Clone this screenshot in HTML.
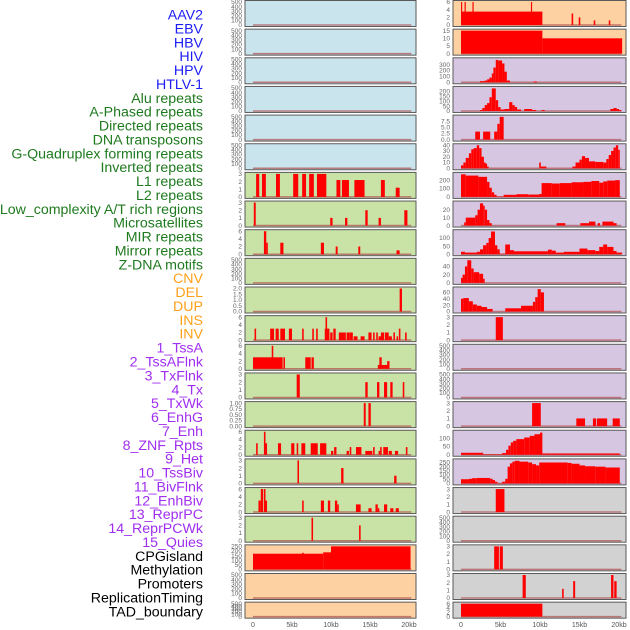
<!DOCTYPE html>
<html><head><meta charset="utf-8">
<style>
html,body{margin:0;padding:0;background:#fff;}
svg{display:block;font-family:"Liberation Sans",sans-serif;}
</style></head>
<body>
<svg id="chart" width="630" height="630" viewBox="0 0 630 630" xmlns="http://www.w3.org/2000/svg"></svg>
<script>
// ---------- data ----------
const labelNames = ["AAV2","EBV","HBV","HIV","HPV","HTLV-1","Alu repeats","A-Phased repeats","Directed repeats","DNA transposons","G-Quadruplex forming repeats","Inverted repeats","L1 repeats","L2 repeats","Low_complexity A/T rich regions","Microsatellites","MIR repeats","Mirror repeats","Z-DNA motifs","CNV","DEL","DUP","INS","INV","1_TssA","2_TssAFlnk","3_TxFlnk","4_Tx","5_TxWk","6_EnhG","7_Enh","8_ZNF_Rpts","9_Het","10_TssBiv","11_BivFlnk","12_EnhBiv","13_ReprPC","14_ReprPCWk","15_Quies","CPGisland","Methylation","Promoters","ReplicationTiming","TAD_boundary"];
const labelGroups = ["virus","virus","virus","virus","virus","virus","repeat","repeat","repeat","repeat","repeat","repeat","repeat","repeat","repeat","repeat","repeat","repeat","repeat","sv","sv","sv","sv","sv","chrom","chrom","chrom","chrom","chrom","chrom","chrom","chrom","chrom","chrom","chrom","chrom","chrom","chrom","chrom","other","other","other","other","other"];
const xTicks = [0,5,10,15,20];
const xTickLabels = ["0","5kb","10kb","15kb","20kb"];

const ticksEmpty = [0,100,200,300,400,500];
const ticks3 = [0,1,2,3];
const ticks6 = [0,2,4,6];

// segments: [startKb, endKb, value]
const segAlu = [[0.4,0.8,3],[1.15,1.65,3],[2.95,3.45,3],[5.15,5.8,3],[6.3,6.8,3],[7.2,7.8,3],[8.2,9.4,3],[10.7,11.2,2.2],[11.4,12.3,2.2],[13.0,14.3,2.2],[16.4,16.9,2.2],[18.3,18.8,1.2]];
const segAPhased = [[0.1,0.35,3],[9.9,10.2,1],[11.8,12.1,1],[14.4,14.7,2],[16.1,16.4,1],[19.4,19.8,2]];
const segDirected = [[1.4,1.7,6],[1.7,1.9,3],[3.5,3.9,3],[8.7,9.1,3],[10.6,10.85,2],[13.5,13.75,2],[18.4,18.8,1]];
const segGQuad = [[18.8,19.1,2]];
const segInverted = [[0.2,0.4,3],[2.2,2.7,3],[2.9,3.3,3],[3.5,4.1,3],[4.6,5.0,3],[6.3,6.5,3],[7.6,7.8,3],[8.1,8.3,3],[9.2,9.8,3],[9.3,9.5,6],[9.9,10.2,2],[10.3,10.6,3],[11.0,11.9,2],[12.0,12.4,2],[12.4,12.8,2],[12.9,13.4,1],[13.8,14.3,1],[14.8,15.2,2],[15.4,15.6,2],[15.8,16.0,2],[16.1,16.8,1],[16.4,16.8,2],[16.9,17.4,2],[17.4,17.8,1],[18.0,18.2,2],[18.4,18.6,1],[18.7,18.9,3],[19.5,19.7,2]];
const segL1 = [[0,3.8,3],[2.4,2.6,6],[3.9,4.1,3],[6.7,7.4,3],[7.5,7.8,3],[16.0,17.3,1],[16.2,16.5,3],[17.2,17.5,2]];
const segL2 = [[5.6,6.0,3],[14.4,14.7,2],[15.9,16.2,2],[16.8,17.2,2],[17.6,17.9,2],[19.2,19.4,2]];
const segLowComplex = [[14.2,14.45,1],[14.8,15.1,1]];
const segMicrosat = [[0.4,0.6,3],[1.4,1.6,6],[1.6,1.8,3],[3.2,3.6,3],[4.9,5.3,3],[5.6,5.8,3],[6.2,6.7,3],[7.4,8.3,3],[8.6,9.4,3],[10.0,10.3,1],[10.4,10.7,2],[12.0,12.3,1],[12.4,12.6,2],[13.2,13.9,2],[14.4,15.3,1],[15.4,15.6,2],[16.1,16.3,1],[16.3,16.5,2],[16.7,17.3,2],[17.4,17.8,1],[18.2,18.6,1],[19.6,19.8,2]];
const segMIR = [[5.7,5.9,3],[11.3,11.6,2],[18.1,18.4,1]];
const segMirror = [[0.7,1.0,3],[1.0,1.3,6],[1.4,1.6,6],[1.6,1.8,3],[6.3,6.5,3],[8.7,9.1,3],[9.6,9.9,3],[10.5,10.8,3],[10.8,11.0,2],[13.2,13.8,2],[14.8,15.2,1],[15.7,16.0,2],[16.0,16.2,1],[16.8,17.2,2],[17.6,18.0,1],[18.3,18.7,1]];
const segZDNA = [[7.5,7.7,3],[13.6,13.8,2]];
const segCNV = [[0,9.0,170],[6.3,6.5,180],[9.0,10.0,185],[10.0,20.2,250]];
const segINS = [[0,10.3,3.5],[0.0,0.15,6],[0.45,0.6,6],[1.45,1.6,6],[8.85,9.0,6],[14.0,14.2,3],[14.9,15.1,2],[16.8,17.0,1.2],[18.7,18.9,1.2]];
const segINV = [[0,10.3,15],[10.3,20.4,10]];
const segTssA = [[2.4,3.0,20],[3.0,3.3,30],[3.3,3.6,50],[3.6,3.9,80],[3.9,4.1,150],[4.1,4.4,250],[4.4,4.7,380],[4.7,5.2,370],[5.2,5.5,320],[5.5,5.8,180],[5.8,6.2,30],[9.2,9.6,15]];
const segTssAFlnk = [[2.4,2.7,10],[2.7,3.0,30],[3.0,3.3,60],[3.3,3.6,80],[3.6,3.9,140],[3.9,4.4,230],[4.4,4.7,110],[4.7,5.0,40],[5.0,5.5,15],[5.5,6.1,20],[6.1,6.5,90],[6.5,6.8,60],[6.8,7.1,40],[7.1,7.6,15],[8.0,9.0,20],[9.0,9.5,10],[10.2,10.6,10],[18.9,19.3,20],[19.3,19.7,30],[19.7,20.0,20],[20.0,20.3,10]];
const segTxFlnk = [[1.8,2.4,3.3],[2.8,3.7,3.3],[4.2,4.6,3.3],[4.6,4.9,6.5],[4.9,5.4,9.4]];
const segTx = [[0,0.3,5],[0.3,0.6,10],[0.6,1.0,18],[1.0,1.3,26],[1.3,1.6,33],[1.6,2.0,35],[2.0,2.3,40],[2.3,2.6,35],[2.6,2.9,20],[2.9,3.1,10],[3.1,3.3,8],[3.3,3.5,3],[9.9,10.1,10],[10.1,10.8,3],[14.1,14.5,3],[14.5,15.0,10],[15.0,15.3,15],[15.3,15.7,21],[15.7,16.2,18],[16.2,17.0,12],[17.0,18.0,11],[18.0,18.4,10],[18.4,18.7,16],[18.7,19.0,23],[19.0,19.3,30],[19.3,19.6,36],[19.6,19.9,40],[19.9,20.1,32]];
const segTxWk = [[0,0.6,270],[0.6,2.2,255],[2.2,3.3,240],[3.3,3.6,180],[3.6,3.9,110],[3.9,4.2,55],[4.2,4.5,25],[4.5,5.4,5],[5.4,7.0,25],[7.0,8.5,32],[8.5,9.9,28],[9.9,10.2,35],[10.2,11.5,165],[11.5,12.5,160],[12.5,14.0,165],[14.0,15.5,175],[15.5,16.5,180],[16.5,17.5,190],[17.5,18.0,170],[18.0,18.5,185],[18.5,19.5,195],[19.5,20.1,200]];
const segEnhG = [[0.4,0.6,4],[0.6,1.8,10],[1.8,2.1,13],[2.1,2.4,20],[2.4,2.8,28],[2.8,3.0,25],[3.0,3.3,20],[3.3,3.6,7],[3.6,3.9,3],[12.1,13.2,3],[15.1,17.0,3],[16.2,17.0,5],[17.3,17.6,3],[17.9,19.3,5],[19.3,19.7,3]];
const segEnh = [[0,0.5,15],[0.5,2.0,10],[2.0,2.4,15],[2.4,2.8,30],[2.8,3.2,55],[3.2,3.5,70],[3.5,3.8,100],[3.8,4.3,140],[4.3,4.6,55],[4.6,4.9,30],[4.9,5.6,3],[5.6,6.2,60],[6.2,6.7,25],[6.7,11.0,18],[11.0,11.5,28],[11.5,12.0,22],[12.0,13.0,10],[13.0,15.0,15],[15.0,16.0,35],[16.0,17.0,25],[17.0,17.5,20],[17.5,18.0,45],[18.0,18.5,60],[18.5,19.3,45],[19.3,19.7,20],[19.7,20.4,10]];
const segZNF = [[0,0.2,12],[0.2,0.5,20],[0.5,0.8,40],[0.8,1.3,55],[1.3,1.6,35],[1.6,2.3,26],[2.3,2.8,22],[2.8,3.0,10]];
const segHet = [[0,0.3,40],[0.3,1.0,42],[1.0,1.5,32],[1.5,2.0,22],[2.0,2.6,18],[2.6,3.3,14],[3.3,4.0,8],[5.6,7.6,10],[7.6,9.1,18],[9.1,9.4,30],[9.4,9.7,45],[9.7,10.1,70],[10.1,10.5,60]];
const segTssBiv = [[4.4,5.3,3]];
const segReprPC = [[9.0,10.1,3],[14.6,15.7,1],[16.7,17.1,1],[17.2,18.5,1],[19.2,20.1,1]];
const segReprPCWk = [[0,2.8,12],[2.8,5.2,3],[5.2,5.7,10],[5.7,6.0,30],[6.0,6.3,55],[6.3,6.6,75],[6.6,7.0,85],[7.0,8.0,95],[8.0,8.7,105],[8.7,9.3,115],[9.3,10.0,125],[10.0,10.3,135],[10.3,10.6,8],[10.6,20.1,8]];
const segQuies = [[0,1.0,50],[1.0,1.4,55],[1.4,2.0,62],[2.0,3.7,65],[3.7,4.0,55],[4.0,4.3,40],[4.3,4.6,20],[4.6,5.2,3],[5.2,5.6,20],[5.6,5.9,55],[5.9,6.2,200],[6.2,6.5,240],[6.5,6.8,260],[6.8,7.4,270],[7.4,8.5,260],[8.5,9.0,250],[9.0,9.5,230],[9.5,9.9,215],[9.9,13.5,250],[13.5,14.0,245],[14.0,15.0,235],[15.0,15.7,215],[15.7,17.0,205],[17.0,18.3,200],[18.3,20.1,190]];
const segCPG = [[4.4,5.5,3]];
const segPromoters = [[4.2,4.8,3],[4.9,5.3,3]];
const segRepTiming = [[7.8,8.2,3],[12.8,13.0,1.2],[14.2,14.45,2.2],[19.0,19.3,3],[19.4,19.7,2.2]];
const segTAD = [[0,10.3,6]];

// panel definitions: [segments, yMax, ticks, tickLabels, background]
const col1 = [
 [[],500,ticksEmpty,null,"blue"],[[],500,ticksEmpty,null,"blue"],[[],500,ticksEmpty,null,"blue"],
 [[],500,ticksEmpty,null,"blue"],[[],500,ticksEmpty,null,"blue"],[[],500,ticksEmpty,null,"blue"],
 [segAlu,3,ticks3,null,"green"],[segAPhased,3,ticks3,null,"green"],[segDirected,6,ticks6,null,"green"],
 [[],500,ticksEmpty,null,"green"],[segGQuad,2,[0,0.5,1,1.5,2],["0.0","0.5","1.0","1.5","2.0"],"green"],
 [segInverted,6,ticks6,null,"green"],[segL1,6,ticks6,null,"green"],[segL2,3,ticks3,null,"green"],
 [segLowComplex,1,[0,0.25,0.5,0.75,1],["0.00","0.25","0.50","0.75","1.00"],"green"],
 [segMicrosat,6,ticks6,null,"green"],[segMIR,3,ticks3,null,"green"],[segMirror,6,ticks6,null,"green"],
 [segZDNA,3,ticks3,null,"green"],[segCNV,250,[0,50,100,150,200,250],null,"orange"],
 [[],500,ticksEmpty,null,"orange"],[[],500,ticksEmpty,null,"orange"]
];
const col2 = [
 [segINS,6,ticks6,null,"orange"],[segINV,15,[0,5,10,15],null,"orange"],
 [segTssA,390,[0,100,200,300],null,"purple"],[segTssAFlnk,235,[0,50,100,150,200],null,"purple"],
 [segTxFlnk,9.5,[0,2.5,5,7.5],["0.0","2.5","5.0","7.5"],"purple"],[segTx,40,[0,10,20,30,40],null,"purple"],
 [segTxWk,275,[0,100,200],null,"purple"],[segEnhG,29,[0,10,20],null,"purple"],
 [segEnh,142,[0,50,100],null,"purple"],[segZNF,56,[0,20,40],null,"purple"],
 [segHet,72,[0,20,40,60],null,"purple"],[segTssBiv,3,ticks3,null,"purple"],
 [[],500,ticksEmpty,null,"purple"],[[],500,ticksEmpty,null,"purple"],
 [segReprPC,3,ticks3,null,"purple"],[segReprPCWk,140,[0,50,100],null,"purple"],
 [segQuies,275,[0,50,100,150,200,250],null,"purple"],[segCPG,3,ticks3,null,"grey"],
 [[],500,ticksEmpty,null,"grey"],[segPromoters,3,ticks3,null,"grey"],
 [segRepTiming,3,ticks3,null,"grey"],[segTAD,6,ticks6,null,"grey"]
];

// ---------- drawing ----------
const NS = "http://www.w3.org/2000/svg";
const svg = document.getElementById("chart");
const bgColors = {blue:"#c9e4ec",green:"#c9e2a6",orange:"#fed1a2",purple:"#d6c6e2",grey:"#d2d2d2"};
const labelColors = {virus:"#1c1cf5",repeat:"#1f7a1f",sv:"#ffa01a",chrom:"#a02ef0",other:"#000000"};
function mk(tag, attrs){const e=document.createElementNS(NS,tag);for(const k in attrs)e.setAttribute(k,attrs[k]);return e;}

// labels
labelNames.forEach((name,i)=>{
  const t = mk("text",{x:203,y:14.5+i*13.88+5,"text-anchor":"end","font-size":"14.2",fill:labelColors[labelGroups[i]]});
  
  
  t.textContent = name;
  svg.appendChild(t);
});

const cols = [
  {panels:col1, left:245, right:416, x0:253, pxPerKb:7.8, tickX:242},
  {panels:col2, left:453, right:626, x0:461, pxPerKb:7.9, tickX:450}
];
const PITCH = 28.65;
cols.forEach((c,ci)=>{
  const xs = kb => c.x0 + kb*c.pxPerKb;
  c.panels.forEach((p,pi)=>{
    const [segs,yMax,ticks,tickLabels,bg] = p;
    const top = pi*PITCH + 0.5;
    const h = (pi===21) ? 16 : 26;
    const bottom = top + h;
    const y0 = bottom - 1.5, y1 = top + 1.5;
    const ys = v => y0 - (v/yMax)*(y0-y1);
    const g = mk("g",{});
    
    
    const r = mk("rect",{x:c.left,y:top,width:c.right-c.left,height:h,fill:bgColors[bg],stroke:"#5a5a5a","stroke-width":"1"});
    
    
    g.appendChild(r);
    const bl = mk("line",{x1:xs(0),x2:xs(20.3),y1:y0,y2:y0,stroke:"#b05050","stroke-width":"1.5","stroke-opacity":"0.7"});
    
    
    g.appendChild(bl);
    segs.forEach(s=>{
      const b = mk("rect",{x:xs(s[0]),y:ys(s[2]),width:Math.max(0.8,xs(s[1])-xs(s[0])),height:y0-ys(s[2]),fill:"#ff0000"});
      
      
      g.appendChild(b);
    });
    ticks.forEach((tv,ti)=>{
      const t = mk("text",{x:c.tickX,y:ys(tv)+2.2,"text-anchor":"end","font-size":"6.5",fill:"#666"});
      
      
      t.textContent = tickLabels ? tickLabels[ti] : String(tv);
      g.appendChild(t);
    });
    svg.appendChild(g);
  });
  xTicks.forEach((kb,i)=>{
    const t = mk("text",{x:xs(kb),y:627,"text-anchor":"middle","font-size":"7",fill:"#555"});
    
    
    t.textContent = xTickLabels[i];
    svg.appendChild(t);
  });
});
</script>
</body></html>
